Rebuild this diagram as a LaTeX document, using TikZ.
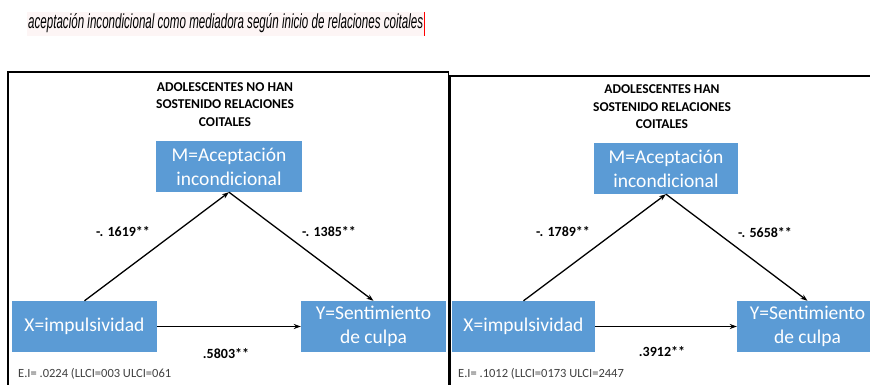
\documentclass[tikz,border=0pt]{standalone}
\usepackage{fontspec}
\usepackage{graphicx}
\setmainfont{Carlito}
\newfontfamily\capfont{Liberation Sans}
\usetikzlibrary{arrows.meta}
\definecolor{boxblue}{HTML}{5B9BD5}
\definecolor{eitext}{HTML}{404040}
\definecolor{hl}{HTML}{FDF5F5}
\begin{document}
\begin{tikzpicture}[x=1pt,y=-1pt,
 box/.style={fill=boxblue,text=white,font=\fontsize{19.5}{24}\selectfont,align=center,inner sep=0pt,minimum height=51pt},
 ttl/.style={font=\bfseries\fontsize{13.5}{17.5}\selectfont,align=center,inner sep=0pt},
 coef/.style={font=\bfseries\fontsize{14}{16}\selectfont,inner sep=0pt},
 ei/.style={font=\fontsize{12.5}{14}\selectfont,text=eitext,anchor=west,inner sep=0pt},
 arr/.style={-{Stealth[length=7pt,width=5pt]},line width=1.3pt},
 frame/.style={line width=1.5pt}]
\useasboundingbox (0,0) rectangle (870,385);
\fill[white] (0,0) rectangle (870,385);
\begin{scope}
\clip (0,0) rectangle (870,385);
% caption
\fill[hl] (27,12) rectangle (424,36);
\node[anchor=base west,inner sep=0pt] (cap) at (28,29) {\resizebox{395pt}{15pt}{\capfont\itshape\fontsize{17}{20}\selectfont aceptación incondicional como mediadora según inicio de relaciones coitales}};
\draw[red,line width=0.8pt] (424,12) -- (424,36);
% frames
\draw[frame] (8,390) -- (8,72) -- (448.5,72) -- (448.5,390);
\draw[frame] (450,390) -- (450,76) -- (875,76);
% left panel
\node[ttl] (t1) at (225,104.5) {ADOLESCENTES NO HAN\\SOSTENIDO RELACIONES\\COITALES};
\node[box,minimum width=146pt] (m1) at (229,166.5) {M=Aceptación\\incondicional};
\node[box,minimum width=145pt] (x1) at (84.5,326.5) {X=impulsividad};
\node[box,minimum width=145pt] (y1) at (373.5,326.5) {Y=Sentimiento\\de culpa};
\draw[arr] (x1.north) -- (m1.south);
\draw[arr] (m1.south) -- (y1.north);
\draw[arr] (x1.east) -- (y1.west);
\node[coef] (a1) at (123,232) {-. 1619**};
\node[coef] (b1) at (329,232) {-. 1385**};
\node[coef] (c1) at (226,354) {.5803**};
\node[ei] (e1) at (18,374) {E.I= .0224 (LLCI=003 ULCI=061};
% right panel
\node[ttl] (t2) at (662,107) {ADOLESCENTES HAN\\SOSTENIDO RELACIONES\\COITALES};
\node[box,minimum width=144pt] (m2) at (666,168.5) {M=Aceptación\\incondicional};
\node[box,minimum width=143pt] (x2) at (523.5,326.5) {X=impulsividad};
\node[box,minimum width=141pt] (y2) at (807.5,326.5) {Y=Sentimiento\\de culpa};
\draw[arr] (x2.north) -- (m2.south);
\draw[arr] (m2.south) -- (y2.north);
\draw[arr] (x2.east) -- (y2.west);
\node[coef] (a2) at (563,232) {-. 1789**};
\node[coef] (b2) at (765,233) {-. 5658**};
\node[coef] (c2) at (662,352) {.3912**};
\node[ei] (e2) at (458,374) {E.I= .1012 (LLCI=0173 ULCI=2447};
\end{scope}
\end{tikzpicture}
\end{document}
